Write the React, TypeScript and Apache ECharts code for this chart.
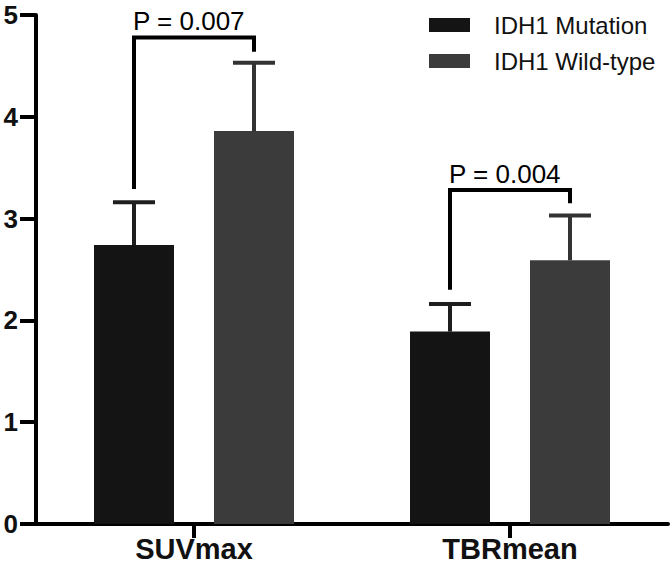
import React, { useEffect, useRef } from "react";
import * as echarts from "echarts";

const categories = ["SUVmax", "TBRmean"];
const seriesNames = ["IDH1 Mutation", "IDH1 Wild-type"];
const mutationMean = [2.74, 1.89];
const mutationUpper = [3.16, 2.16];
const wildMean = [3.86, 2.59];
const wildUpper = [4.53, 3.03];
// bracket: [leftLegBottom, rightLegBottom, top]
const bracketLeft = [3.29, 2.3];
const bracketRight = [4.64, 3.15];
const bracketTop = [4.78, 3.28];
const pLabels = ["P = 0.007", "P = 0.004"];
const yTicks = [0, 1, 2, 3, 4, 5];

const BAR_W = 80;
const OFFSET = 60;
const FONT = "Liberation Sans, Arial, Helvetica, sans-serif";

export default function App() {
  const ref = useRef<HTMLDivElement>(null);
  useEffect(() => {
    if (!ref.current) return;
    const chart = echarts.init(ref.current, null, { renderer: "svg" });
    const errData: number[][] = [];
    categories.forEach((_, i) => {
      errData.push([i, mutationMean[i], mutationUpper[i], -1]);
      errData.push([i, wildMean[i], wildUpper[i], 1]);
    });
    const brData = categories.map((_, i) => [i, bracketLeft[i], bracketRight[i], bracketTop[i]]);
    chart.setOption({
      animation: false,
      backgroundColor: "#ffffff",
      textStyle: { fontFamily: FONT },
      grid: { left: 36, right: 4, top: 15, bottom: 47, containLabel: false },
      legend: {
        orient: "vertical",
        left: 424,
        top: 8,
        itemWidth: 41,
        itemHeight: 14,
        itemGap: 12,
        icon: "rect",
        data: seriesNames,
        textStyle: { fontSize: 24, color: "#111", fontFamily: FONT, padding: [0, 0, 0, 19] },
      },
      xAxis: {
        type: "category",
        data: categories,
        axisLine: { lineStyle: { color: "#000", width: 4 } },
        axisTick: { show: true, alignWithLabel: true, length: 14, lineStyle: { color: "#000", width: 4 } },
        axisLabel: { fontSize: 29, fontWeight: "bold", color: "#111", margin: 10, fontFamily: FONT },
      },
      yAxis: {
        type: "value",
        min: 0,
        max: yTicks[yTicks.length - 1],
        interval: 1,
        axisLine: { show: true, lineStyle: { color: "#000", width: 4 } },
        axisTick: { show: true, length: 16, lineStyle: { color: "#000", width: 4 } },
        splitLine: { show: false },
        axisLabel: { fontSize: 26, fontWeight: "bold", color: "#111", margin: 18, fontFamily: FONT },
      },
      series: [
        {
          name: seriesNames[0],
          type: "bar",
          data: mutationMean,
          barWidth: BAR_W,
          barGap: "50%",
          itemStyle: { color: "#141414" },
          z: 2,
        },
        {
          name: seriesNames[1],
          type: "bar",
          data: wildMean,
          barWidth: BAR_W,
          barGap: "50%",
          itemStyle: { color: "#3b3b3b" },
          z: 2,
        },
        {
          type: "custom",
          data: errData,
          z: 3,
          silent: true,
          renderItem: (params: any, api: any) => {
            const cat = api.value(0);
            const side = api.value(3);
            const p0 = api.coord([cat, api.value(1)]);
            const p1 = api.coord([cat, api.value(2)]);
            const x = p0[0] + side * OFFSET;
            const color = side < 0 ? "#1e1e1e" : "#333333";
            return {
              type: "group",
              children: [
                { type: "line", shape: { x1: x, y1: p0[1], x2: x, y2: p1[1] }, style: { stroke: color, lineWidth: 4 } },
                { type: "line", shape: { x1: x - 21, y1: p1[1], x2: x + 21, y2: p1[1] }, style: { stroke: color, lineWidth: 4 } },
              ],
            };
          },
        },
        {
          type: "custom",
          data: brData,
          z: 3,
          silent: true,
          renderItem: (params: any, api: any) => {
            const cat = api.value(0);
            const pl = api.coord([cat, api.value(1)]);
            const pr = api.coord([cat, api.value(2)]);
            const pt = api.coord([cat, api.value(3)]);
            const xl = pl[0] - OFFSET;
            const xr = pl[0] + OFFSET;
            return {
              type: "group",
              children: [
                {
                  type: "polyline",
                  shape: { points: [[xl, pl[1]], [xl, pt[1]], [xr, pt[1]], [xr, pr[1]]] },
                  style: { stroke: "#000", lineWidth: 4, fill: null, lineJoin: "miter" },
                },
                {
                  type: "text",
                  x: xl - 1,
                  y: pt[1] - 3,
                  style: {
                    text: pLabels[params.dataIndex],
                    fontSize: 26,
                    fontFamily: FONT,
                    fill: "#000",
                    textAlign: "left",
                    textVerticalAlign: "bottom",
                  },
                },
              ],
            };
          },
        },
      ],
    });
    return () => chart.dispose();
  }, []);
  return (
    <div
      ref={ref}
      style={{ position: "absolute", left: 0, top: 0, width: 672, height: 571 }}
    />
  );
}
